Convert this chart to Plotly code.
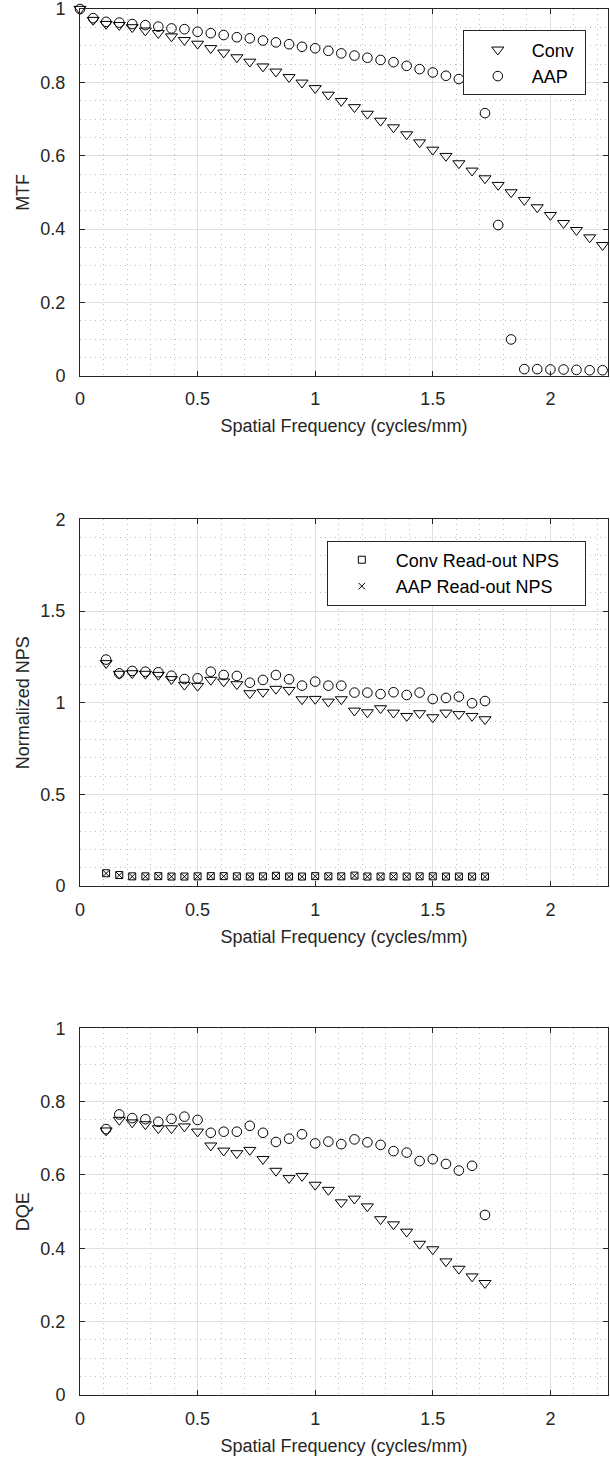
import plotly.graph_objects as go

# ---------------- data ----------------
freq_mtf = [0.0, 0.056, 0.111, 0.167, 0.222, 0.278, 0.333, 0.389, 0.444, 0.5,
            0.556, 0.611, 0.667, 0.722, 0.778, 0.833, 0.889, 0.944, 1.0, 1.056,
            1.111, 1.167, 1.222, 1.278, 1.333, 1.389, 1.444, 1.5, 1.556, 1.611,
            1.667, 1.722, 1.778, 1.833, 1.889, 1.944, 2.0, 2.056, 2.111, 2.167, 2.222]

mtf_conv = [1.0, 0.970, 0.959, 0.956, 0.950, 0.941, 0.934, 0.925, 0.915, 0.905,
            0.893, 0.881, 0.868, 0.856, 0.843, 0.829, 0.814, 0.799, 0.784, 0.766,
            0.749, 0.732, 0.714, 0.695, 0.677, 0.658, 0.636, 0.616, 0.599, 0.579,
            0.559, 0.538, 0.520, 0.500, 0.479, 0.459, 0.438, 0.416, 0.397, 0.377, 0.356]

mtf_aap = [1.0, 0.975, 0.965, 0.963, 0.959, 0.956, 0.952, 0.947, 0.945, 0.938,
           0.934, 0.929, 0.923, 0.920, 0.914, 0.909, 0.904, 0.897, 0.893, 0.886,
           0.879, 0.873, 0.867, 0.861, 0.855, 0.845, 0.836, 0.827, 0.818, 0.809,
           0.800, 0.716, 0.411, 0.099, 0.018, 0.018, 0.017, 0.017, 0.016, 0.015, 0.015]

freq_nps = [0.111, 0.167, 0.222, 0.278, 0.333, 0.389, 0.444, 0.5, 0.556, 0.611,
            0.667, 0.722, 0.778, 0.833, 0.889, 0.944, 1.0, 1.056, 1.111, 1.167,
            1.222, 1.278, 1.333, 1.389, 1.444, 1.5, 1.556, 1.611, 1.667, 1.722]

nps_conv = [1.215, 1.157, 1.160, 1.157, 1.151, 1.128, 1.097, 1.091, 1.124, 1.115,
            1.100, 1.051, 1.058, 1.075, 1.069, 1.018, 1.020, 1.005, 1.018, 0.956,
            0.947, 0.969, 0.945, 0.927, 0.942, 0.920, 0.945, 0.937, 0.927, 0.909]

nps_aap = [1.235, 1.160, 1.173, 1.169, 1.166, 1.147, 1.129, 1.133, 1.169, 1.151,
           1.146, 1.109, 1.124, 1.151, 1.128, 1.093, 1.115, 1.093, 1.093, 1.055,
           1.055, 1.047, 1.057, 1.042, 1.055, 1.020, 1.026, 1.033, 0.997, 1.009]

readout_conv = [0.070, 0.060, 0.053, 0.053, 0.054, 0.052, 0.052, 0.053, 0.054, 0.054,
                0.053, 0.052, 0.053, 0.056, 0.052, 0.052, 0.054, 0.053, 0.053, 0.057,
                0.052, 0.052, 0.053, 0.052, 0.053, 0.053, 0.052, 0.052, 0.052, 0.052]

readout_aap = [0.069, 0.059, 0.052, 0.052, 0.053, 0.051, 0.051, 0.052, 0.053, 0.053,
               0.052, 0.051, 0.052, 0.055, 0.051, 0.051, 0.053, 0.052, 0.052, 0.056,
               0.051, 0.051, 0.052, 0.051, 0.052, 0.052, 0.051, 0.051, 0.051, 0.051]

dqe_conv = [0.721, 0.750, 0.743, 0.738, 0.727, 0.727, 0.732, 0.718, 0.680, 0.666,
            0.659, 0.668, 0.643, 0.611, 0.591, 0.597, 0.573, 0.559, 0.525, 0.535,
            0.514, 0.479, 0.465, 0.445, 0.412, 0.397, 0.364, 0.344, 0.323, 0.305]

dqe_aap = [0.725, 0.765, 0.755, 0.752, 0.745, 0.753, 0.759, 0.750, 0.715, 0.718,
           0.718, 0.734, 0.715, 0.690, 0.699, 0.711, 0.686, 0.691, 0.684, 0.697,
           0.689, 0.682, 0.665, 0.661, 0.638, 0.643, 0.630, 0.612, 0.625, 0.491]

x_ticks = [0, 0.5, 1, 1.5, 2]
x_label = "Spatial Frequency (cycles/mm)"

# ---------------- style ----------------
INK = "#262626"
FONT = "Liberation Sans, Arial, Helvetica, sans-serif"
FS = 18
NB = "\u00a0"

def mk(symbol, size):
    return dict(symbol=symbol, size=size, color="black",
                line=dict(color="black", width=1))

TRI = mk("triangle-down-open", 10.5)
CIR = mk("circle-open", 9.6)
SQ = mk("square-open", 7)
XX = mk("x-thin-open", 6.5)

fig = go.Figure()

def add(x, y, marker, name, xa, ya, legend=None, show=False):
    fig.add_trace(go.Scatter(x=x, y=y, mode="markers", marker=marker, name=name,
                             xaxis=xa, yaxis=ya, cliponaxis=False,
                             showlegend=show, legend=legend or "legend"))

# MTF
add(freq_mtf, mtf_conv, TRI, "Conv" + NB, "x", "y", "legend", True)
add(freq_mtf, mtf_aap, CIR, "AAP", "x", "y", "legend", True)
# NPS
add(freq_nps, nps_conv, TRI, "Conv NPS", "x2", "y2")
add(freq_nps, nps_aap, CIR, "AAP NPS", "x2", "y2")
add(freq_nps, readout_conv, SQ, "Conv Read-out NPS" + NB * 4, "x2", "y2", "legend2", True)
add(freq_nps, readout_aap, XX, "AAP Read-out NPS", "x2", "y2", "legend2", True)
# DQE
add(freq_nps, dqe_conv, TRI, "Conv DQE", "x3", "y3")
add(freq_nps, dqe_aap, CIR, "AAP DQE", "x3", "y3")

def xaxis(anchor):
    return dict(anchor=anchor, domain=[0, 1], range=[0, 2.245],
                tickvals=x_ticks, showline=True, linecolor=INK, linewidth=1,
                mirror="allticks", ticks="inside", ticklen=5, tickcolor=INK,
                showgrid=True, gridcolor="#dfdfdf", gridwidth=1, zeroline=False,
                tickfont=dict(family=FONT, size=FS, color=INK), ticklabelstandoff=7,
                ticklabeloverflow="allow",
                minor=dict(dtick=0.1, tick0=0, showgrid=True, gridcolor="#bdbdbd",
                           griddash="1px,4px", gridwidth=1, ticks=""),
                title=dict(text=x_label, font=dict(family=FONT, size=FS, color=INK),
                           standoff=11))

def yaxis(anchor, dom, rng, dtick, mdtick, title):
    return dict(anchor=anchor, domain=dom, range=rng, dtick=dtick, tick0=0,
                showline=True, linecolor=INK, linewidth=1,
                mirror="allticks", ticks="inside", ticklen=5, tickcolor=INK,
                showgrid=True, gridcolor="#dfdfdf", gridwidth=1, zeroline=False,
                tickfont=dict(family=FONT, size=FS, color=INK), ticklabelstandoff=10,
                ticklabeloverflow="allow",
                minor=dict(dtick=mdtick, tick0=0, showgrid=True, gridcolor="#bdbdbd",
                           griddash="1px,4px", gridwidth=1, ticks=""),
                title=dict(text=title, font=dict(family=FONT, size=FS, color=INK),
                           standoff=6))

legend_style = dict(bgcolor="white", bordercolor=INK, borderwidth=1,
                    font=dict(family=FONT, size=FS, color="black"),
                    xanchor="right", yanchor="top", itemwidth=58,
                    tracegroupgap=0)

fig.update_layout(
    width=610, height=1458,
    margin=dict(l=80, r=2, t=9, b=63, autoexpand=False),
    paper_bgcolor="white", plot_bgcolor="white",
    font=dict(family=FONT, size=FS, color=INK),
    xaxis=xaxis("y"), yaxis=yaxis("x", [0.7354, 1.0], [0, 1], 0.2, 0.05, "MTF"),
    xaxis2=xaxis("y2"), yaxis2=yaxis("x2", [0.3672, 0.6318], [0, 2], 0.5, 0.1, "Normalized NPS"),
    xaxis3=xaxis("y3"), yaxis3=yaxis("x3", [0.0, 0.2646], [0, 1], 0.2, 0.05, "DQE"),
    legend=dict(x=0.958, y=0.9845, **legend_style),
    legend2=dict(x=0.958, y=0.6165, **legend_style),
)

fig.write_html("out.html")
